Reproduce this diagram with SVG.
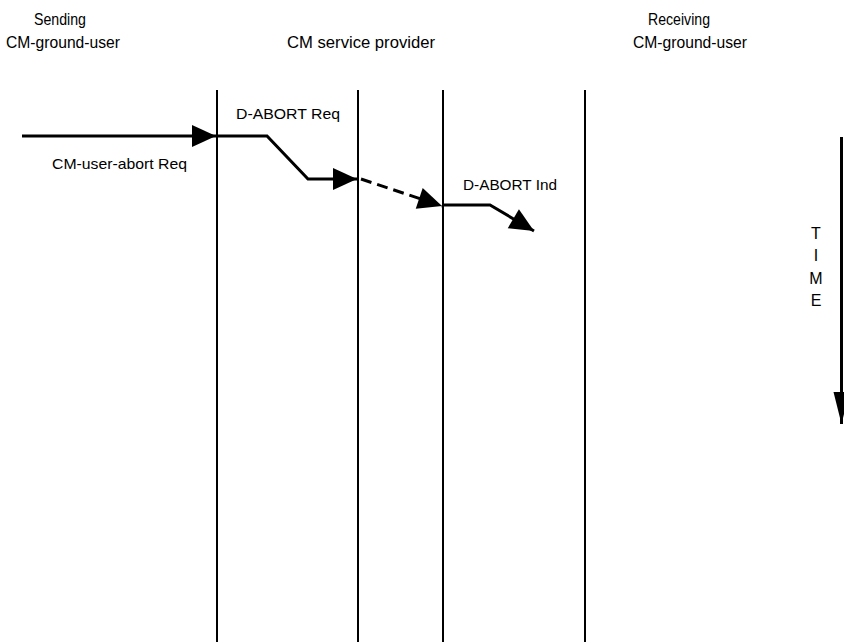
<svg xmlns="http://www.w3.org/2000/svg" width="844" height="642" viewBox="0 0 844 642">
  <style>
    .hdr { font-family: "Liberation Sans", Arial, sans-serif; font-size: 17px; fill: #000; text-anchor: middle; }
    .lbl { font-family: "Liberation Sans", Arial, sans-serif; font-size: 15px; fill: #000; }
    .time { font-family: "Liberation Sans", Arial, sans-serif; font-size: 16px; fill: #000; text-anchor: middle; }
    .life { stroke: #000; stroke-width: 2; fill: none; }
    .msg { stroke: #000; stroke-width: 3; fill: none; stroke-linejoin: miter; }
    .dash { stroke-dasharray: 11 6; }
  </style>
  <defs>
    <marker id="head" markerUnits="userSpaceOnUse" markerWidth="26" markerHeight="24" refX="24" refY="11" orient="auto" overflow="visible">
      <path d="M0,0 L24,11 L0,22 Z" fill="#000"/>
    </marker>
    <marker id="timehead" markerUnits="userSpaceOnUse" markerWidth="18" markerHeight="34" refX="32" refY="8" orient="auto" overflow="visible">
      <path d="M0,0 L32,8 L0,16 Z" fill="#000"/>
    </marker>
  </defs>

  <rect width="844" height="642" fill="#fff"/>

  <!-- column headings -->
  <g id="sending-user">
    <text class="hdr" x="60" y="25" textLength="52" lengthAdjust="spacingAndGlyphs">Sending</text>
    <text class="hdr" x="63" y="48" textLength="114" lengthAdjust="spacingAndGlyphs">CM-ground-user</text>
  </g>
  <g id="service-provider">
    <text class="hdr" x="361" y="48" textLength="148" lengthAdjust="spacingAndGlyphs">CM service provider</text>
  </g>
  <g id="receiving-user">
    <text class="hdr" x="679" y="25" textLength="62" lengthAdjust="spacingAndGlyphs">Receiving</text>
    <text class="hdr" x="690" y="48" textLength="114" lengthAdjust="spacingAndGlyphs">CM-ground-user</text>
  </g>

  <!-- provider boundary lines -->
  <g id="lifelines">
    <line class="life" x1="217" y1="90" x2="217" y2="642"/>
    <line class="life" x1="358" y1="90" x2="358" y2="642"/>
    <line class="life" x1="443" y1="90" x2="443" y2="642"/>
    <line class="life" x1="585" y1="90" x2="585" y2="642"/>
  </g>

  <!-- primitive flow -->
  <g id="connectors">
    <line class="msg" x1="22" y1="136" x2="216" y2="136" marker-end="url(#head)"/>
    <polyline class="msg" points="217,136 267,136 308,179 357,179" marker-end="url(#head)"/>
    <line class="msg dash" x1="361" y1="179" x2="442" y2="206" marker-end="url(#head)"/>
    <polyline class="msg" points="443,205 490,205 534,231" marker-end="url(#head)"/>
    <line class="msg" x1="841.5" y1="137" x2="841.5" y2="424" marker-end="url(#timehead)"/>
  </g>

  <!-- primitive labels -->
  <g id="labels">
    <text class="lbl" x="52" y="169" textLength="135" lengthAdjust="spacingAndGlyphs">CM-user-abort Req</text>
    <text class="lbl" x="236" y="119" textLength="104" lengthAdjust="spacingAndGlyphs">D-ABORT Req</text>
    <text class="lbl" x="463" y="190" textLength="94" lengthAdjust="spacingAndGlyphs">D-ABORT Ind</text>
  </g>

  <!-- time axis caption -->
  <g id="time-axis">
    <text class="time" x="816" y="239">T</text>
    <text class="time" x="816" y="261">I</text>
    <text class="time" x="816" y="284">M</text>
    <text class="time" x="816" y="306">E</text>
  </g>
</svg>
